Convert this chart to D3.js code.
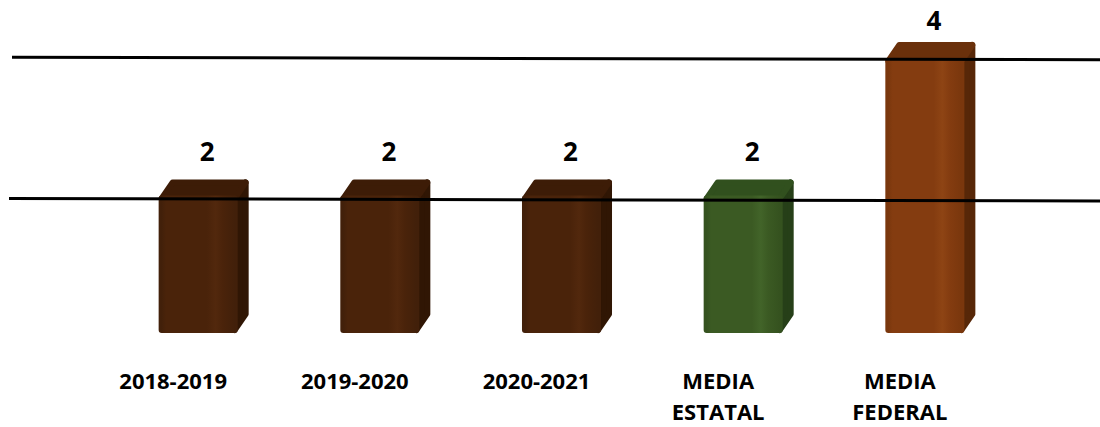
<!DOCTYPE html>
<html>
<head>
<meta charset="utf-8">
<script src="https://cdn.jsdelivr.net/npm/d3@7"></script>
<style>
    html, body { margin: 0; padding: 0; background: #ffffff; }
    svg { display: block; }
    text { font-family: "Open Sans", "Noto Sans", sans-serif; font-weight: 700; fill: #000; }
</style>
</head>
<body>
<div id="chart"></div>
<script>
(function () {
    'use strict';

    // data
    var categories = ["2018-2019", "2019-2020", "2020-2021", "MEDIA ESTATAL", "MEDIA FEDERAL"];
    var values = [2, 2, 2, 2, 4];
    var barKinds = ["brown", "brown", "brown", "green", "orange"];
    var gridValues = [2, 4];

    var width = 1100,
        height = 427,
        DEPTH_X = 11,
        DEPTH_Y = -16,
        palette = {
            brown:  {front: "#4a230a", edge: "#42200a", light: "#52280d", side: "#301604", top: "#3d1c07"},
            green:  {front: "#3b5a23", edge: "#35521f", light: "#426429", side: "#263f18", top: "#31501e"},
            orange: {front: "#843c10", edge: "#7a370d", light: "#8e4414", side: "#572708", top: "#6a300b"}
        };

    var svg = d3.select("#chart").append("svg")
        .attr("width", width)
        .attr("height", height);

    var x = d3.scaleBand()
        .domain(categories)
        .range([56, 1067])
        .padding(0.565);

    // front face of bars
    var y = d3.scaleLinear().domain([0, 4]).range([333, 58]);
    // gridlines sit on the back wall
    var yGrid = d3.scaleLinear().domain([0, 4]).range([341, 58.5]);

    var defs = svg.append("defs");
    Object.keys(palette).forEach(function (k) {
        var p = palette[k];
        var g = defs.append("linearGradient")
            .attr("id", "front-" + k)
            .attr("x1", "0%").attr("x2", "100%")
            .attr("y1", "0%").attr("y2", "0%");
        [[0, p.edge], [0.06, p.front], [0.62, p.front], [0.74, p.light], [0.84, p.front], [1, p.edge]]
            .forEach(function (s) {
                g.append("stop").attr("offset", s[0]).attr("stop-color", s[1]);
            });
    });

    var bars = svg.append("g").selectAll(".bar")
        .data(values)
        .enter()
        .append("g")
        .attr("class", "bar");

    function poly(pts) {
        return "M" + pts.map(function (p) { return p.join(","); }).join("L") + "Z";
    }

    bars.each(function (d, i) {
        var g = d3.select(this),
            p = palette[barKinds[i]],
            x0 = x(categories[i]) + 3,
            x1 = x(categories[i]) + x.bandwidth() - 3,
            yt = y(d) + 3,
            yb = y(0) - 3;

        // side face
        g.append("path")
            .attr("d", poly([[x1, yt], [x1 + DEPTH_X, yt + DEPTH_Y], [x1 + DEPTH_X, yb + DEPTH_Y], [x1, yb]]))
            .attr("fill", p.side)
            .attr("stroke", p.side)
            .attr("stroke-width", 6)
            .attr("stroke-linejoin", "round");

        // top face
        g.append("path")
            .attr("d", poly([[x0, yt], [x0 + DEPTH_X, yt + DEPTH_Y], [x1 + DEPTH_X, yt + DEPTH_Y], [x1, yt]]))
            .attr("fill", p.top)
            .attr("stroke", p.top)
            .attr("stroke-width", 6)
            .attr("stroke-linejoin", "round");

        // front face
        g.append("path")
            .attr("d", poly([[x0, yt], [x1, yt], [x1, yb], [x0, yb]]))
            .attr("fill", "url(#front-" + barKinds[i] + ")")
            .attr("stroke", "url(#front-" + barKinds[i] + ")")
            .attr("stroke-width", 6)
            .attr("stroke-linejoin", "round");
    });

    // gridlines drawn over bars, slightly tilted like the reference
    svg.append("g").selectAll("line")
        .data(gridValues)
        .enter()
        .append("line")
        .attr("x1", function (d) { return d === 4 ? 12 : 9; })
        .attr("x2", width)
        .attr("y1", function (d) { return yGrid(d) - 1.2; })
        .attr("y2", function (d) { return yGrid(d) + 1.2; })
        .attr("stroke", "#000")
        .attr("stroke-width", 3);

    // value labels
    svg.append("g").selectAll("text")
        .data(values)
        .enter()
        .append("text")
        .attr("text-anchor", "middle")
        .attr("font-size", 26)
        .attr("x", function (d, i) { return x(categories[i]) + x.bandwidth() / 2 + 9; })
        .attr("y", function (d) { return Math.max(y(d) + DEPTH_Y - 19, 30); })
        .text(function (d) { return d; });

    // category labels
    var labels = svg.append("g").selectAll("text")
        .data(categories)
        .enter()
        .append("text")
        .attr("text-anchor", "middle")
        .attr("font-size", 22)
        .attr("x", function (d) { return x(d) + x.bandwidth() / 2 - 25; })
        .attr("y", 389);

    labels.selectAll("tspan")
        .data(function (d) { return d.split(" "); })
        .enter()
        .append("tspan")
        .attr("x", function () { return d3.select(this.parentNode).attr("x"); })
        .attr("dy", function (d, i) { return i === 0 ? 0 : 30.5; })
        .text(function (d) { return d; });
})();
</script>
</body>
</html>
